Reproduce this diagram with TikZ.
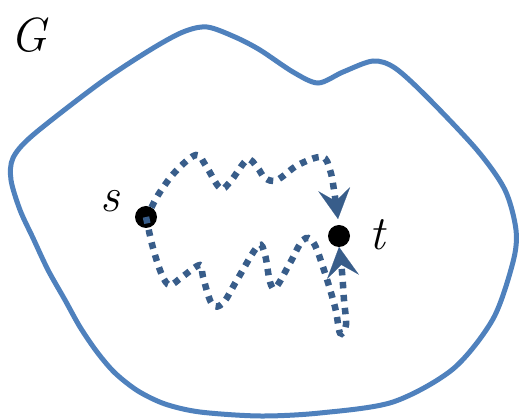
\documentclass[tikz,border=0pt]{standalone}
\usepackage{fontspec}
\usetikzlibrary{arrows.meta}
\definecolor{outlineblue}{RGB}{79,129,189}
\definecolor{pathblue}{RGB}{56,93,138}
\begin{document}
\begin{tikzpicture}[x=1pt,y=-1pt,
  dotnode/.style={circle,fill=black,inner sep=0pt,outer sep=0pt,minimum size=22pt},
  lbl/.style={inner sep=0pt,font=\fontsize{48}{52}\selectfont\itshape},
  walk/.style={pathblue,line width=6.5pt,dash pattern=on 6.5pt off 6.5pt,
    -{Stealth[length=30pt,width=32pt,inset=12pt,line width=0.1pt]}},
  region/.style={outlineblue,line width=5pt}]
\useasboundingbox (0,0) rectangle (520,419);
% outline of G
\draw[region] plot[smooth cycle,tension=0.5] coordinates {
  (207,27) (235,37) (260,50) (293,72) (318,83) (343,72) (373,61) (395,68)
  (427,97) (477,150) (505,190) (516,230) (513,262) (493,319) (453,369)
  (393,402) (320,413) (260,416) (200,412) (165,404) (138,391) (115,373)
  (97,352) (80,327) (65,300) (48,270) (33,238) (20,210) (11,180) (13,158)
  (33,135) (100,83) (150,50) (183,32)};
% labels
\node[lbl] (G) at (29,35) {G};
\node[dotnode] (s) at (146,217) {};
\node[dotnode] (t) at (339,236) {};
\node[lbl] (sl) at (110,201) {s};
\node[lbl] (tl) at (377,235) {t};
% walks
\draw[walk] plot[smooth,tension=0.6] coordinates {
  (s.60) (160,192) (176,171) (196,155) (206,166) (220,188) (230,182)
  (247,160) (257,167) (265,178) (277,180) (298,165) (322,157) (330,170)
  (334,190) (338,219)};
\draw[walk] plot[smooth,tension=0.6] coordinates {
  (s.center) (153,248) (162,275) (170,285) (182,277) (200,265) (203,277)
  (212,304) (223,303) (237,280) (258,246) (265,255) (270,282) (276,287)
  (290,263) (303,240) (313,242) (323,267) (335,307) (340,333) (346,325)
  (344,300) (342,272) (t.south)};
\end{tikzpicture}
\end{document}
